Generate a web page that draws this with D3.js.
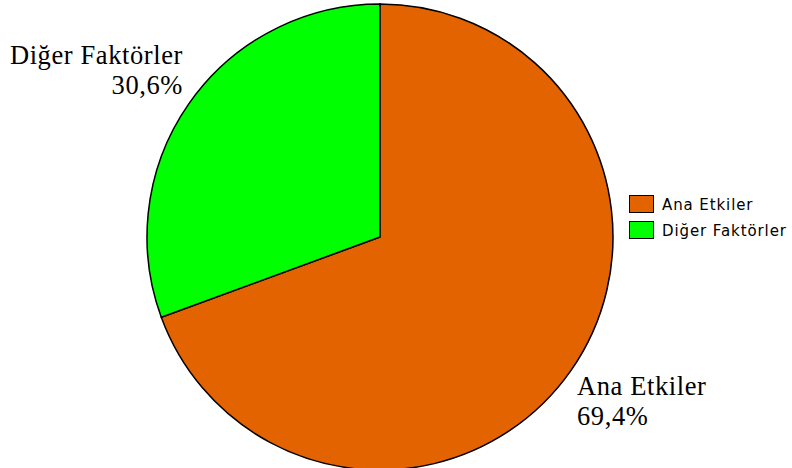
<!DOCTYPE html>
<html>
<head>
<meta charset="utf-8">
<script src="https://cdn.jsdelivr.net/npm/d3@7"></script>
<style>
  body { margin: 0; background: #fff; }
  svg { display: block; }
</style>
</head>
<body>
<div id="chart"></div>
<script>
var categories = ["Ana Etkiler", "Diğer Faktörler"];
var values = [69.4, 30.6];
var labels = ["69,4%", "30,6%"];
var colors = ["#e36300", "#00ff00"];

var width = 792, height = 468;
var cx = 380, cy = 237, radius = 233;

var svg = d3.select("#chart").append("svg")
    .attr("width", width)
    .attr("height", height);

var data = categories.map(function(c, i) {
    return {tipo: c, valor: values[i], label: labels[i], cor: colors[i]};
});

// first slice clockwise from 12 o'clock, second fills the rest
var pie = d3.pie()
    .sort(null)
    .value(function(d) { return d.valor; });

var arc = d3.arc()
    .outerRadius(radius)
    .innerRadius(0);

var g = svg.append("g")
    .attr("transform", "translate(" + cx + "," + cy + ")");

g.selectAll(".arc")
    .data(pie(data))
    .enter().append("path")
    .attr("class", "arc")
    .attr("d", arc)
    .style("fill", function(d) { return d.data.cor; })
    .style("stroke", "#000")
    .style("stroke-width", 1.5);

// slice labels (serif, outside the pie)
var labelPos = [
    {x: 577, y: 395, anchor: "start"},
    {x: 183, y: 64, anchor: "end"}
];

data.forEach(function(d, i) {
    var t = svg.append("text")
        .attr("x", labelPos[i].x)
        .attr("y", labelPos[i].y)
        .attr("text-anchor", labelPos[i].anchor)
        .style("font-family", "'Liberation Serif', 'DejaVu Serif', serif")
        .style("font-size", "26.5px")
        .style("letter-spacing", "0.6px")
        .style("fill", "#000");
    t.append("tspan").text(d.tipo);
    t.append("tspan")
        .attr("x", labelPos[i].x)
        .attr("dy", 29.5)
        .text(d.label);
});

// legend
var legend = svg.append("g")
    .attr("transform", "translate(629,195)");

var item = legend.selectAll(".leg")
    .data(data)
    .enter().append("g")
    .attr("class", "leg")
    .attr("transform", function(d, i) { return "translate(0," + (i * 26) + ")"; });

item.append("rect")
    .attr("x", 0.5)
    .attr("y", 0.5)
    .attr("width", 24)
    .attr("height", 17)
    .style("fill", function(d) { return d.cor; })
    .style("stroke", "#000")
    .style("stroke-width", 1);

item.append("text")
    .attr("x", 33)
    .attr("y", 15)
    .style("font-family", "'DejaVu Sans', sans-serif")
    .style("font-size", "15px")
    .style("letter-spacing", "0.9px")
    .style("fill", "#000")
    .text(function(d) { return d.tipo; });
</script>
</body>
</html>
